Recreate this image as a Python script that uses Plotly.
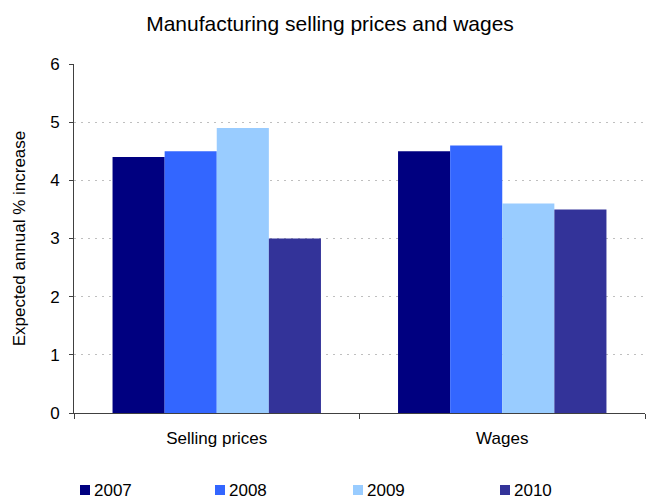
import plotly.graph_objects as go

categories = ["Selling prices", "Wages"]
years = ["2007", "2008", "2009", "2010"]
values_2007 = [4.4, 4.5]
values_2008 = [4.5, 4.6]
values_2009 = [4.9, 3.6]
values_2010 = [3.0, 3.5]
colors = ["#000080", "#3366FF", "#99CCFF", "#333399"]

series = [values_2007, values_2008, values_2009, values_2010]

W, H = 647, 503
M_L, M_R, M_T, M_B = 74, 2, 64, 90
font_family = "Liberation Sans, Arial, sans-serif"

fig = go.Figure()
for name, vals, col in zip(years, series, colors):
    fig.add_trace(go.Bar(x=categories, y=vals, name=name, marker_color=col,
                         marker_line_width=0, showlegend=False))


def px_to_paper_x(px):
    return (px - M_L) / (W - M_L - M_R)


def px_to_paper_y(py):
    return (H - M_B - py) / (H - M_T - M_B)


# Legend row below the plot: a colour square followed by the year
legend_x = [80, 215, 353, 500]
legend_y = 490
sq = 10
for x0, name, col in zip(legend_x, years, colors):
    fig.add_shape(type="rect", xref="paper", yref="paper",
                  x0=px_to_paper_x(x0), x1=px_to_paper_x(x0 + sq),
                  y0=px_to_paper_y(legend_y + sq / 2), y1=px_to_paper_y(legend_y - sq / 2),
                  fillcolor=col, line_width=0)
    fig.add_annotation(text=name, xref="paper", yref="paper",
                       x=px_to_paper_x(x0 + sq + 2), y=px_to_paper_y(legend_y),
                       xanchor="left", yanchor="middle", showarrow=False,
                       font=dict(size=17, color="#000000"))

fig.update_layout(
    width=W, height=H,
    margin=dict(l=M_L, r=M_R, t=M_T, b=M_B),
    paper_bgcolor="white", plot_bgcolor="white",
    barmode="group", bargap=0.27, bargroupgap=0,
    font=dict(family=font_family, size=17, color="#000000"),
    title=dict(text="Manufacturing selling prices and wages", x=330 / W, xanchor="center",
               y=1 - 24 / H, yanchor="middle", font=dict(size=21, color="#000000")),
    xaxis=dict(showline=True, linecolor="#404040", linewidth=1, ticks="outside",
               tickson="boundaries", ticklen=5, tickcolor="#404040",
               showgrid=False, tickfont=dict(size=17), ticklabelstandoff=10),
    yaxis=dict(range=[0, 6], dtick=1, showline=True, linecolor="#404040", linewidth=1,
               ticks="outside", ticklen=4, tickcolor="#404040",
               showgrid=True, gridcolor="#bfbfbf", griddash="2px,5px", gridwidth=1,
               zeroline=False, tickfont=dict(size=17), ticklabelstandoff=6,
               title=dict(text="Expected annual % increase", font=dict(size=17), standoff=20)),
)

fig.write_html("out.html")
